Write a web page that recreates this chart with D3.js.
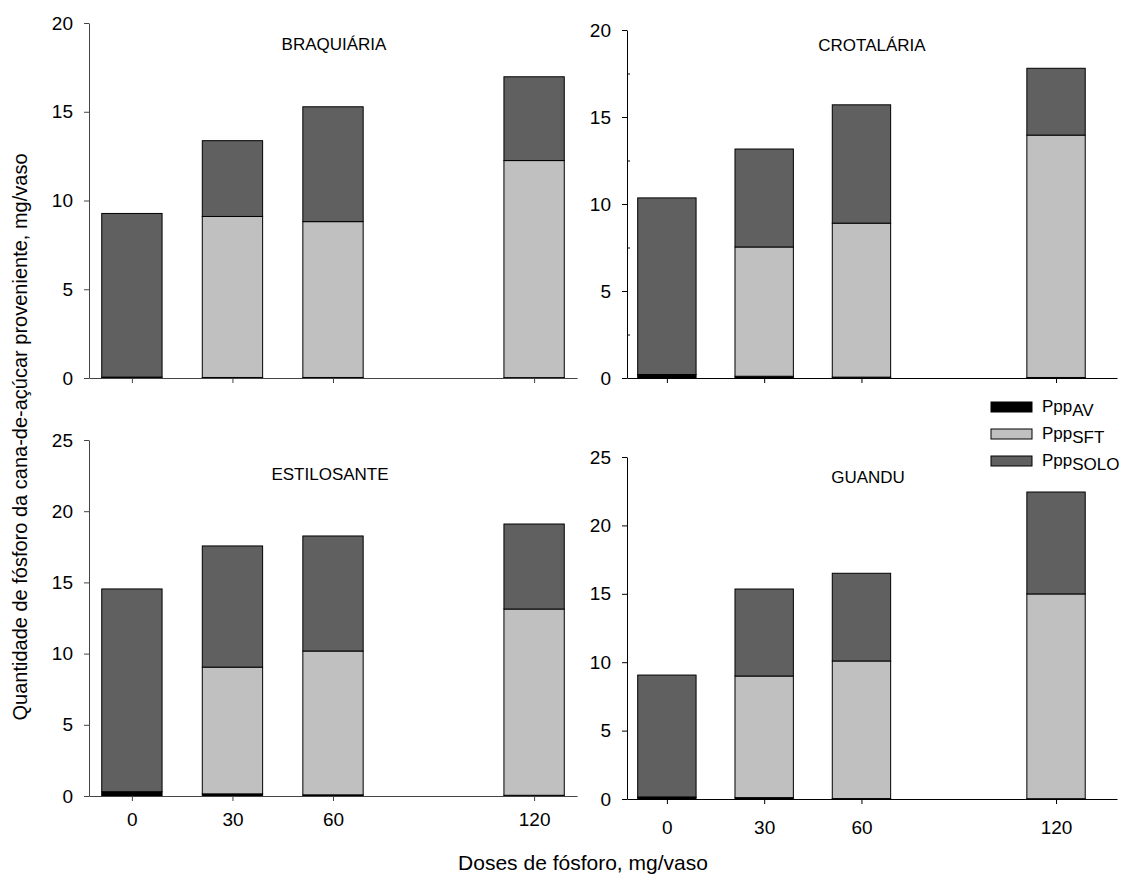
<!DOCTYPE html>
<html>
<head>
<meta charset="utf-8">
<script src="https://cdn.jsdelivr.net/npm/d3@7"></script>
<style>
  body { margin: 0; background: #fff; }
  svg { font-family: "Liberation Sans", Arial, sans-serif; }
  .axis text { font-size: 19px; fill: #000; }
</style>
</head>
<body>
<svg width="1127" height="883"></svg>
<script>
// doses of P (mg/vaso)
var doses = [0, 30, 60, 120];
var titles = ["BRAQUIÁRIA", "CROTALÁRIA", "ESTILOSANTE", "GUANDU"];
var yMax = [20, 20, 25, 25];

// one row per panel, one value per dose
var pppAV = [
    [0.05, 0.03, 0.03, 0.02],
    [0.20, 0.10, 0.05, 0.03],
    [0.30, 0.15, 0.08, 0.05],
    [0.15, 0.10, 0.03, 0.02]
];
var pppSFT = [
    [0, 9.07, 8.78, 12.23],
    [0, 7.43, 8.85, 13.93],
    [0, 8.90, 10.10, 13.08],
    [0, 8.89, 10.06, 14.97]
];
var pppSOLO = [
    [9.22, 4.27, 6.47, 4.72],
    [10.15, 5.63, 6.80, 3.84],
    [14.24, 8.51, 8.08, 5.97],
    [8.91, 6.36, 6.41, 7.45]
];

var seriesNames = ["AV", "SFT", "SOLO"];
var colors = ["#000000", "#c0c0c0", "#606060"];

var svg = d3.select("svg");

// panel boxes in pixels
var boxes = [
    { x0: 89, x1: 577, yTop: 23, yBot: 378, axisColor: "#444", minor: false, labels: false },
    { x0: 627, x1: 1117, yTop: 30, yBot: 378, axisColor: "#000", minor: true, labels: false },
    { x0: 89, x1: 577, yTop: 440, yBot: 796, axisColor: "#444", minor: false, labels: true, pad: 12 },
    { x0: 627, x1: 1117, yTop: 457, yBot: 799, axisColor: "#000", minor: false, labels: true, pad: 17 }
];
var xDomains = [[-12.8, 132.8], [-12.3, 138.8], [-12.8, 132.8], [-12.3, 138.8]];
var titlePos = [[334, 50], [872, 51], [330, 480], [868, 483]];
var barWidth = 18; // in dose units

var stack = d3.stack().keys([0, 1, 2]);

boxes.forEach(function (b, i) {
    var x = d3.scaleLinear().domain(xDomains[i]).range([b.x0, b.x1]);
    var y = d3.scaleLinear().domain([0, yMax[i]]).range([b.yBot, b.yTop]);

    var rows = doses.map(function (d, j) {
        return [pppAV[i][j], pppSFT[i][j], pppSOLO[i][j]];
    });
    var layers = stack(rows);

    var g = svg.append("g");

    g.selectAll("g.layer")
        .data(layers)
        .enter().append("g")
        .attr("class", "layer")
        .attr("fill", function (d, k) { return colors[k]; })
        .selectAll("rect")
        .data(function (d) { return d; })
        .enter().append("rect")
        .attr("x", function (d, j) { return x(doses[j] - barWidth / 2); })
        .attr("width", function (d, j) { return x(doses[j] + barWidth / 2) - x(doses[j] - barWidth / 2); })
        .attr("y", function (d) { return y(d[1]); })
        .attr("height", function (d) { return y(d[0]) - y(d[1]); })
        .attr("stroke", "#000")
        .attr("stroke-width", 1);

    var yAxis = g.append("g")
        .attr("class", "axis")
        .attr("transform", "translate(" + b.x0 + ",0)")
        .call(d3.axisLeft(y).tickValues(d3.range(0, yMax[i] + 1, 5)).tickSize(5).tickSizeOuter(0).tickPadding(11));
    yAxis.selectAll("path, line").attr("stroke", b.axisColor);

    if (b.minor) {
        g.append("g")
            .attr("transform", "translate(" + b.x0 + ",0)")
            .call(d3.axisRight(y).tickValues(d3.range(2.5, yMax[i], 5)).tickSize(3).tickFormat(""))
            .call(function (s) { s.select(".domain").remove(); })
            .selectAll("line").attr("stroke", b.axisColor);
    }

    var xAxis = g.append("g")
        .attr("class", "axis")
        .attr("transform", "translate(0," + b.yBot + ")")
        .call(d3.axisBottom(x).tickValues(doses).tickSize(5).tickSizeOuter(0).tickPadding(b.pad || 3));
    xAxis.selectAll("path, line").attr("stroke", b.axisColor);
    if (!b.labels) xAxis.selectAll("text").remove();

    g.append("text")
        .attr("x", titlePos[i][0])
        .attr("y", titlePos[i][1])
        .attr("text-anchor", "middle")
        .style("font-size", "17px")
        .text(titles[i]);
});

// legend
var legend = svg.append("g").attr("transform", "translate(991,402)");
seriesNames.forEach(function (name, k) {
    var row = legend.append("g").attr("transform", "translate(0," + k * 27 + ")");
    row.append("rect")
        .attr("width", 41).attr("height", 10)
        .attr("fill", colors[k]).attr("stroke", "#000");
    var t = row.append("text")
        .attr("x", 51).attr("y", 10)
        .style("font-size", "17px");
    t.append("tspan").text("Ppp");
    t.append("tspan").attr("dy", 4).text(name);
});

// axis titles
svg.append("text")
    .attr("transform", "translate(27,437) rotate(-90)")
    .attr("text-anchor", "middle")
    .style("font-size", "20px")
    .text("Quantidade de fósforo da cana-de-açúcar proveniente, mg/vaso");

svg.append("text")
    .attr("x", 583).attr("y", 870)
    .attr("text-anchor", "middle")
    .style("font-size", "21px")
    .text("Doses de fósforo, mg/vaso");
</script>
</body>
</html>
